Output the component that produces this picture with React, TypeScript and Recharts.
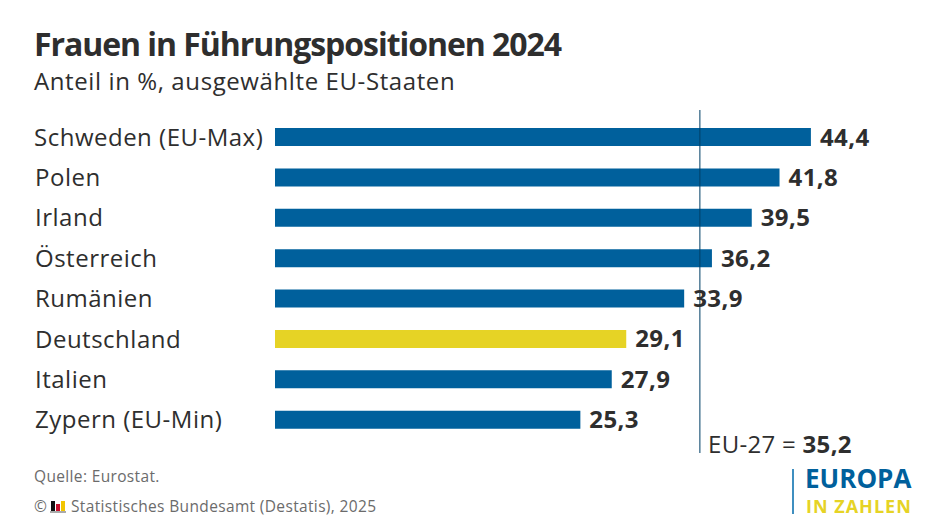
import { BarChart, Bar, Cell, XAxis, YAxis, ReferenceLine, LabelList } from "recharts";

const countries = ["Schweden (EU-Max)", "Polen", "Irland", "Österreich", "Rumänien", "Deutschland", "Italien", "Zypern (EU-Min)"];
const shares = [44.4, 41.8, 39.5, 36.2, 33.9, 29.1, 27.9, 25.3];
const highlighted = "Deutschland";
const euAverage = 35.2;

const rows = countries.map((country, i) => ({ country, share: shares[i] }));

const FONT = "'Open Sans', sans-serif";
const INK = "#2e2e2e";
const BLUE = "#00609c";
const YELLOW = "#e6d325";
const GREY = "#6b6b6b";

const deComma = (v: number) => v.toFixed(1).replace(".", ",");

function CountryTick({ y, payload }: any) {
  return (
    <text x={payload.value === "Schweden (EU-Max)" ? 34 : 35} y={y} dy={8.5} fontFamily={FONT} fontSize={24} letterSpacing={0.5} fill={INK} textAnchor="start">
      {payload.value}
    </text>
  );
}

function Text({ x, y, size, color, bold, spacing, children }: any) {
  return (
    <div
      style={{
        position: "absolute", left: x, top: y, fontFamily: FONT, fontSize: size, color,
        fontWeight: bold ? 700 : 400, lineHeight: 1, whiteSpace: "nowrap", letterSpacing: spacing,
      }}
    >
      {children}
    </div>
  );
}

export default function App() {
  return (
    <div style={{ position: "absolute", left: 0, top: 0, width: 945, height: 532, background: "#fff", overflow: "hidden" }}>
      <Text x={34} y={28} size={32} color={INK} bold spacing={-1.05}>Frauen in Führungspositionen 2024</Text>
      <Text x={34} y={69} size={24} color={INK} spacing={0.6}>Anteil in %, ausgewählte EU-Staaten</Text>

      <BarChart
        width={945}
        height={532}
        layout="vertical"
        data={rows}
        margin={{ top: 110, right: 66.5, bottom: 79, left: 0 }}
        barSize={18}
        style={{ position: "absolute", left: 0, top: 0 }}
      >
        <XAxis type="number" domain={[0, 50]} hide />
        <YAxis
          type="category"
          dataKey="country"
          width={275}
          axisLine={false}
          tickLine={false}
          interval={0}
          padding={{ top: 7, bottom: 13 }}
          tick={<CountryTick />}
        />
        <Bar dataKey="share" isAnimationActive={false}>
          {rows.map((r) => (
            <Cell key={r.country} fill={r.country === highlighted ? YELLOW : BLUE} />
          ))}
          <LabelList
            dataKey="share"
            position="right"
            offset={9}
            formatter={deComma}
            style={{ fontFamily: FONT, fontSize: 24, fontWeight: 700, fill: INK, letterSpacing: 0.4 }}
          />
        </Bar>
        <ReferenceLine x={euAverage} stroke="#003f66" strokeOpacity={0.85} strokeWidth={1.2} isFront zIndex={1000} />
      </BarChart>

      <Text x={708} y={432} size={24} color={INK} spacing={0.3}>
        EU-27 = <b>{deComma(euAverage)}</b>
      </Text>

      <Text x={34} y={469} size={15.5} color={GREY} spacing={0.35}>Quelle: Eurostat.</Text>
      <Text x={34} y={499} size={15.5} color={GREY}>©</Text>
      <svg width={16} height={14} style={{ position: "absolute", left: 50, top: 500 }}>
        <rect x={1} y={1} width={4} height={10} fill="#111" />
        <rect x={6} y={4} width={4} height={7} fill="#c8102e" />
        <rect x={11} y={1} width={4} height={10} fill="#f2c500" />
        <rect x={0} y={11} width={16} height={2} fill="#aaa" />
      </svg>
      <Text x={71} y={499} size={15.5} color={GREY} spacing={0.35}>Statistisches Bundesamt (Destatis), 2025</Text>

      <div style={{ position: "absolute", left: 792, top: 469, width: 2, height: 45, background: "#3f8fc0" }} />
      <Text x={805} y={465} size={26} color={BLUE} bold>EUROPA</Text>
      <Text x={806} y={497} size={18} color={YELLOW} bold spacing={1}>IN ZAHLEN</Text>
    </div>
  );
}
